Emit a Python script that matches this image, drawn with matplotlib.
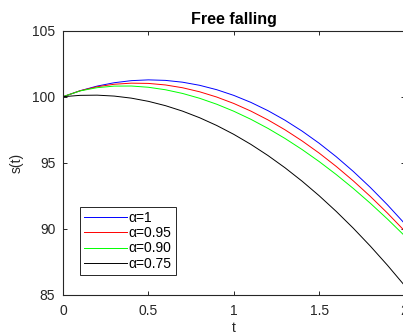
#!/usr/bin/env python3
"""Free falling: position s(t) for several fractional orders alpha."""

import matplotlib

matplotlib.use("Agg")
import matplotlib.pyplot as plt

# values
t = [0.0, 0.1, 0.2, 0.3, 0.4, 0.5, 0.6, 0.7, 0.8, 0.9, 1.0,
     1.1, 1.2, 1.3, 1.4, 1.5, 1.6, 1.7, 1.8, 1.9, 2.0]
s_alpha_100 = [100.0, 100.451, 100.804, 101.059, 101.216, 101.275, 101.236,
               101.099, 100.864, 100.531, 100.1, 99.571, 98.944, 98.219,
               97.396, 96.475, 95.456, 94.339, 93.124, 91.811, 90.4]
s_alpha_095 = [100.0, 100.450, 100.754, 100.943, 101.026, 101.007, 100.890,
               100.678, 100.373, 99.975, 99.488, 98.911, 98.246, 97.494,
               96.653, 95.730, 94.719, 93.625, 92.446, 91.184, 89.841]
s_alpha_090 = [100.0, 100.439, 100.684, 100.802, 100.809, 100.715, 100.526,
               100.247, 99.881, 99.431, 98.900, 98.290, 97.602, 96.838,
               96.000, 95.089, 94.105, 93.051, 91.926, 90.733, 89.471]
s_alpha_075 = [100.0, 100.102, 100.117, 100.047, 99.891, 99.649, 99.321,
               98.907, 98.407, 97.821, 97.149, 96.391, 95.547, 94.618,
               93.602, 92.500, 91.312, 90.039, 88.679, 87.234, 85.702]

series = [
    ("\u03b1=1", s_alpha_100, "#0000ff"),
    ("\u03b1=0.95", s_alpha_095, "#ff0000"),
    ("\u03b1=0.90", s_alpha_090, "#00ff00"),
    ("\u03b1=0.75", s_alpha_075, "#000000"),
]
x_ticks = [0, 0.5, 1, 1.5, 2]
x_tick_labels = ["0", "0.5", "1", "1.5", "2"]
y_ticks = [85, 90, 95, 100, 105]

axis_color = "#262626"
plt.rcParams["font.family"] = ["Liberation Sans", "DejaVu Sans"]

fig = plt.figure(figsize=(4.03, 3.34), dpi=100)
ax = fig.add_axes([63 / 403, 39.3 / 334, 341.5 / 403, 264 / 334])

for label, values, color in series:
    ax.plot(t, values, color=color, linewidth=0.7, label=label)

ax.set_xlim(0, 2)
ax.set_ylim(85, 105)
ax.set_xticks(x_ticks)
ax.set_xticklabels(x_tick_labels)
ax.set_yticks(y_ticks)

for spine in ax.spines.values():
    spine.set_color(axis_color)
    spine.set_linewidth(0.8)
ax.tick_params(direction="in", top=True, right=True, length=3, width=0.7,
               colors=axis_color, labelsize=10)
ax.tick_params(axis="x", pad=7)
ax.tick_params(axis="y", pad=5.5)

ax.set_title("Free falling", fontsize=11.5, fontweight="bold", pad=5)
ax.set_xlabel("t", fontsize=10, color=axis_color, labelpad=2)
ax.set_ylabel("s(t)", fontsize=10, color=axis_color, labelpad=6)

leg = ax.legend(loc="lower left", bbox_to_anchor=(0.0498, 0.0746),
                fontsize=10, frameon=True, fancybox=False, framealpha=1,
                handlelength=3.1, handletextpad=0.1, labelspacing=0.1,
                borderpad=0.3, borderaxespad=0)
leg.get_frame().set_edgecolor(axis_color)
leg.get_frame().set_linewidth(0.7)

fig.savefig("out.png", dpi=100)
